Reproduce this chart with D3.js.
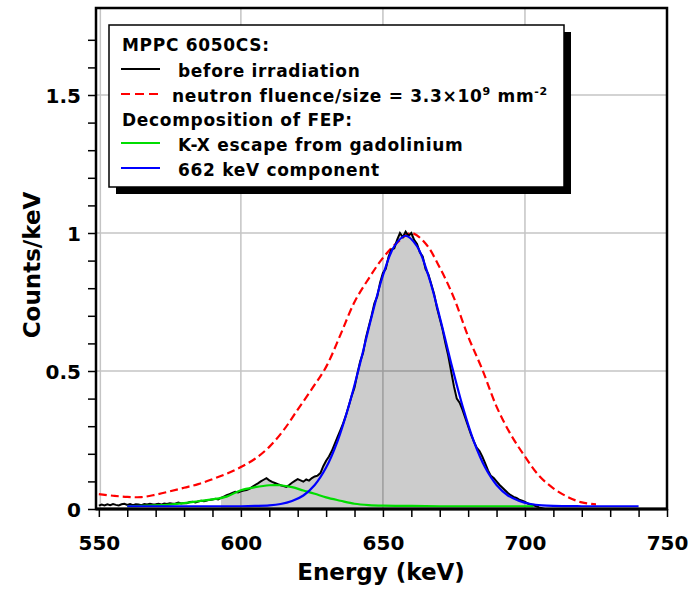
<!DOCTYPE html>
<html>
<head>
<meta charset="utf-8">
<script src="https://cdn.jsdelivr.net/npm/d3@7/dist/d3.min.js"></script>
<style>
  body { margin: 0; background: #fff; }
  text { font-family: "DejaVu Sans", Verdana, sans-serif; font-weight: bold; fill: #000; }
</style>
</head>
<body>
<div id="chart"></div>
<script>
// before irradiation: 1 keV bins from 550 keV
var blackStart = 550;
var blackCounts = [
  0.012, 0.016, 0.013, 0.017, 0.014, 0.018, 0.015, 0.013, 0.017, 0.019,
  0.015, 0.018, 0.014, 0.017, 0.016, 0.014, 0.018, 0.016, 0.019, 0.016,
  0.017, 0.019, 0.016, 0.020, 0.018, 0.021, 0.019, 0.020, 0.023, 0.020,
  0.022, 0.021, 0.025, 0.026, 0.024, 0.027, 0.030, 0.028, 0.031, 0.033,
  0.034, 0.037, 0.035, 0.040, 0.045, 0.050, 0.054, 0.058, 0.062, 0.060,
  0.064, 0.067, 0.069, 0.073, 0.080, 0.087, 0.093, 0.100, 0.106, 0.112,
  0.104, 0.098, 0.094, 0.090, 0.086, 0.083, 0.080, 0.087, 0.095, 0.102,
  0.108, 0.104, 0.099, 0.107, 0.103, 0.112, 0.118, 0.121, 0.130, 0.155,
  0.175, 0.190, 0.210, 0.235, 0.260, 0.285, 0.310, 0.340, 0.375, 0.410,
  0.440, 0.490, 0.535, 0.565, 0.620, 0.660, 0.700, 0.745, 0.770, 0.820,
  0.855, 0.870, 0.915, 0.940, 0.945, 0.975, 1.000, 0.985, 1.005, 0.990,
  1.000, 0.975, 0.960, 0.930, 0.915, 0.870, 0.850, 0.815, 0.780, 0.730,
  0.690, 0.650, 0.600, 0.555, 0.500, 0.445, 0.400, 0.385, 0.360, 0.330,
  0.300, 0.270, 0.245, 0.222, 0.210, 0.190, 0.165, 0.140, 0.120, 0.112,
  0.100, 0.088, 0.078, 0.068, 0.058, 0.050, 0.044, 0.040, 0.034, 0.030,
  0.026, 0.020, 0.016, 0.013, 0.010, 0.006, 0.003, 0, 0, 0,
  0, 0, 0, 0, 0, 0, 0, 0, 0, 0,
  0, 0, 0, 0, 0, 0, 0, 0, 0, 0,
  0, 0, 0, 0, 0, 0, 0, 0, 0, 0,
  0, 0, 0, 0, 0, 0, 0, 0, 0, 0
];
// fitted FEP region (shaded)
var fepFrom = 593, fepTo = 708;

// neutron fluence 3.3e9 mm^-2
var redEnergy = [550, 555, 560, 565, 570, 575, 580, 585, 590, 595, 600, 605, 610, 615, 620, 625, 630, 635, 640, 645,
                 650, 655, 660, 665, 670, 675, 680, 685, 690, 695, 700, 705, 710, 715, 720, 725];
var redCounts = [0.054, 0.048, 0.044, 0.043, 0.052, 0.064, 0.077, 0.090, 0.108, 0.128, 0.152, 0.182, 0.225, 0.285, 0.360, 0.435, 0.515, 0.630, 0.750, 0.835,
                 0.910, 0.965, 1.000, 0.962, 0.875, 0.765, 0.625, 0.505, 0.371, 0.270, 0.190, 0.120, 0.075, 0.044, 0.024, 0.017];

// K-X escape from gadolinium
var greenEnergy = [560, 565, 570, 575, 580, 585, 590, 595, 600, 605, 610, 614, 618, 622, 626, 630, 635, 640, 645, 650, 660, 670, 680, 690, 703];
var greenCounts = [0.010, 0.011, 0.013, 0.016, 0.021, 0.028, 0.035, 0.045, 0.068, 0.079, 0.086, 0.086, 0.079, 0.067, 0.055, 0.042, 0.030, 0.019, 0.014, 0.012, 0.011, 0.010, 0.010, 0.010, 0.010];

// 662 keV component
var blueEnergy = [560, 570, 580, 590, 600, 605, 610, 614, 618, 622, 626, 630, 634, 638, 642, 646, 650, 654, 658,
                  662, 666, 670, 674, 678, 682, 686, 690, 694, 698, 702, 706, 710, 720, 730, 740];
var blueCounts = [0.010, 0.010, 0.010, 0.010, 0.010, 0.011, 0.013, 0.018, 0.029, 0.049, 0.087, 0.150, 0.245, 0.374, 0.529, 0.696, 0.846, 0.952, 0.990,
                  0.952, 0.846, 0.696, 0.529, 0.374, 0.245, 0.150, 0.087, 0.049, 0.029, 0.018, 0.013, 0.011, 0.010, 0.010, 0.010];

var xMajor = [550, 600, 650, 700, 750];
var yMajor = [0, 0.5, 1, 1.5];

var W = 688, H = 589;
var pLeft = 96, pRight = 667, pTop = 8, pBottom = 509;

var x = d3.scaleLinear().domain([549, 750]).range([pLeft, pRight]);
var y = d3.scaleLinear().domain([0, 1.5]).range([pBottom, 95]);

var svg = d3.select("#chart")
    .append("svg")
    .attr("width", W)
    .attr("height", H);

svg.append("clipPath").attr("id", "plotclip")
    .append("rect")
    .attr("x", pLeft).attr("y", pTop)
    .attr("width", pRight - pLeft).attr("height", pBottom - pTop);

// grid
var grid = svg.append("g").attr("stroke", "#c4c4c4").attr("stroke-width", 1.5);
grid.selectAll(".vg").data(xMajor.slice(0, 4)).enter().append("line")
    .attr("x1", function (d) { return x(d) + (d == 550 ? 1.5 : 0) })
    .attr("x2", function (d) { return x(d) + (d == 550 ? 1.5 : 0) })
    .attr("y1", pTop).attr("y2", pBottom);
grid.selectAll(".hg").data(yMajor.slice(1)).enter().append("line")
    .attr("x1", pLeft).attr("x2", pRight)
    .attr("y1", function (d) { return y(d) })
    .attr("y2", function (d) { return y(d) });

var black = blackCounts.map(function (v, i) { return { e: blackStart + i, c: v } });
var plot = svg.append("g").attr("clip-path", "url(#plotclip)");

// shaded FEP region
plot.append("path")
    .datum(black.filter(function (d) { return d.e >= fepFrom && d.e <= fepTo }))
    .attr("fill", "#000")
    .attr("fill-opacity", 0.2)
    .attr("d", d3.area()
        .x(function (d) { return x(d.e) })
        .y0(y(0))
        .y1(function (d) { return y(d.c) }));

function series(en, val) {
    return en.map(function (e, i) { return { e: e, c: val[i] } });
}

plot.append("path")
    .datum(series(redEnergy, redCounts))
    .attr("fill", "none")
    .attr("stroke", "#ff0000")
    .attr("stroke-width", 2.2)
    .attr("stroke-dasharray", "8,4")
    .attr("d", d3.line()
        .x(function (d) { return x(d.e) })
        .y(function (d) { return y(d.c) })
        .curve(d3.curveCatmullRom));

plot.append("path")
    .datum(black)
    .attr("fill", "none")
    .attr("stroke", "#000")
    .attr("stroke-width", 2)
    .attr("d", d3.line()
        .x(function (d) { return x(d.e) })
        .y(function (d) { return y(d.c) }));

plot.append("path")
    .datum(series(greenEnergy, greenCounts))
    .attr("fill", "none")
    .attr("stroke", "#00dd00")
    .attr("stroke-width", 2.2)
    .attr("d", d3.line()
        .x(function (d) { return x(d.e) })
        .y(function (d) { return y(d.c) })
        .curve(d3.curveCatmullRom));

plot.append("path")
    .datum(series(blueEnergy, blueCounts))
    .attr("fill", "none")
    .attr("stroke", "#0000ff")
    .attr("stroke-width", 2.2)
    .attr("d", d3.line()
        .x(function (d) { return x(d.e) })
        .y(function (d) { return y(d.c) })
        .curve(d3.curveCatmullRom));

// frame
svg.append("rect")
    .attr("x", pLeft).attr("y", pTop)
    .attr("width", pRight - pLeft).attr("height", pBottom - pTop)
    .attr("fill", "none").attr("stroke", "#000").attr("stroke-width", 2.5);
svg.append("line")
    .attr("x1", pLeft).attr("x2", pRight).attr("y1", pBottom).attr("y2", pBottom)
    .attr("stroke", "#000").attr("stroke-width", 3);

// axes
var xAxis = svg.append("g")
    .attr("transform", "translate(0," + pBottom + ")")
    .call(d3.axisBottom(x)
        .tickValues(d3.range(550, 751, 10))
        .tickSize(8)
        .tickFormat(function (d) { return d % 50 == 0 ? d : "" }));
xAxis.select(".domain").remove();
xAxis.selectAll("line").attr("stroke-width", 1.5);
xAxis.selectAll("text").attr("y", 41).attr("dy", 0)
    .style("font-size", "20px").style("font-family", "DejaVu Sans").style("font-weight", "bold");

var yAxis = svg.append("g")
    .attr("transform", "translate(" + pLeft + ",0)")
    .call(d3.axisLeft(y)
        .tickValues(d3.range(0, 18).map(function (i) { return i / 10 }))
        .tickSize(8)
        .tickFormat(function (d) { return yMajor.indexOf(d) >= 0 ? d : "" }));
yAxis.select(".domain").remove();
yAxis.selectAll("line").attr("stroke-width", 1.5);
yAxis.selectAll("text").attr("x", -15).attr("dy", "0.36em")
    .style("font-size", "20px").style("font-family", "DejaVu Sans").style("font-weight", "bold");

svg.append("text")
    .attr("x", 381).attr("y", 580)
    .attr("text-anchor", "middle")
    .style("font-size", "23px")
    .text("Energy (keV)");

svg.append("text")
    .attr("transform", "translate(40,265) rotate(-90)")
    .attr("text-anchor", "middle")
    .style("font-size", "23px")
    .text("Counts/keV");

// legend
var lg = svg.append("g");
lg.append("rect").attr("x", 116).attr("y", 32).attr("width", 455).attr("height", 162).attr("fill", "#000");
lg.append("rect").attr("x", 109).attr("y", 25).attr("width", 455).attr("height", 162)
    .attr("fill", "#fff").attr("stroke", "#000").attr("stroke-width", 1.5);

var fs = "17px", ls = "0.7px";
function legendText(tx, ty, s) {
    return lg.append("text").attr("x", tx).attr("y", ty)
        .style("font-size", fs).style("letter-spacing", ls).text(s);
}
legendText(122, 51, "MPPC 6050CS:");
legendText(122, 126, "Decomposition of FEP:");

var rows = [
    { y: 69, color: "#000", dash: null, tx: 178, ty: 77, label: "before irradiation" },
    { y: 94, color: "#ff0000", dash: "9,5", tx: 172, ty: 102, label: null },
    { y: 143, color: "#00dd00", dash: null, tx: 178, ty: 151, label: "K-X escape from gadolinium" },
    { y: 168, color: "#0000ff", dash: null, tx: 178, ty: 176, label: "662 keV component" }
];
rows.forEach(function (r) {
    lg.append("line")
        .attr("x1", 121).attr("x2", 160).attr("y1", r.y).attr("y2", r.y)
        .attr("stroke", r.color).attr("stroke-width", 2)
        .attr("stroke-dasharray", r.dash);
    if (r.label) legendText(r.tx, r.ty, r.label);
});
var nt = legendText(172, 102, null);
nt.append("tspan").text("neutron fluence/size = 3.3\u00d710");
nt.append("tspan").attr("dy", -7).style("font-size", "11px").text("9");
nt.append("tspan").attr("dy", 7).text(" mm");
nt.append("tspan").attr("dy", -7).style("font-size", "11px").text("-2");
</script>
</body>
</html>
